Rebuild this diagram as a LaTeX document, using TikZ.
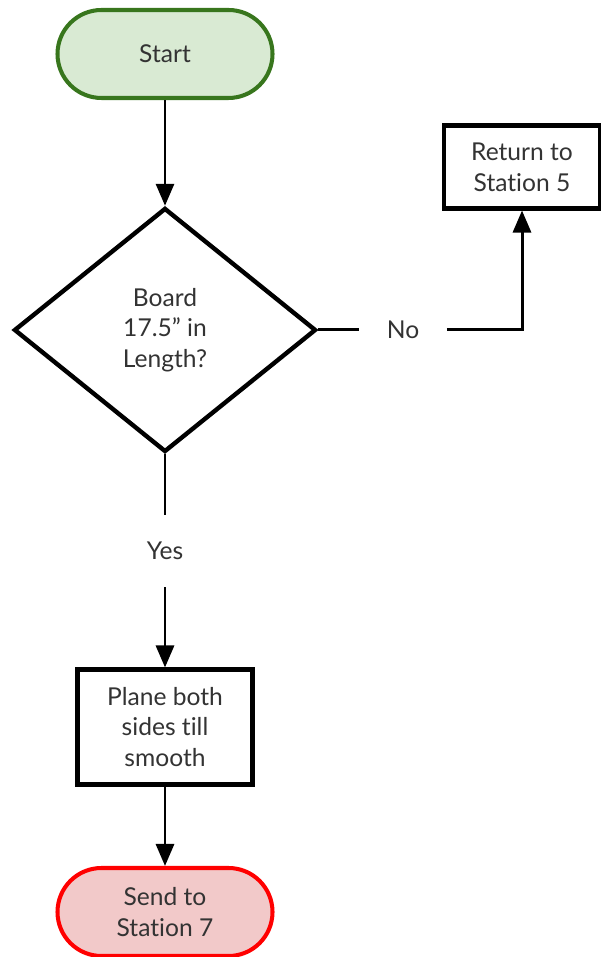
\documentclass[tikz,border=0pt]{standalone}
\usepackage{fontspec}
\setmainfont{Lato}[Ligatures=NoCommon]
\usetikzlibrary{shapes.geometric,arrows.meta}
\definecolor{startfill}{HTML}{D9EAD3}
\definecolor{startline}{HTML}{38761D}
\definecolor{endfill}{HTML}{F2C9C9}
\definecolor{endline}{HTML}{FF0000}
\definecolor{txt}{HTML}{333333}
\tikzset{
  terminal/.style={draw, line width=2.3pt, rounded corners=0.88cm, minimum width=4.3cm,
    minimum height=1.76cm, align=center, text=txt, font=\fontsize{14}{17.5}\selectfont},
  process/.style={draw, line width=2.3pt, align=center, text=txt, font=\fontsize{14}{17.5}\selectfont},
  decision/.style={draw, diamond, line width=2.5pt, minimum width=6.04cm, minimum height=4.88cm,
    inner sep=0pt, align=center, text=txt, font=\fontsize{14}{17.5}\selectfont},
  answer/.style={inner sep=0pt, text=txt, font=\fontsize{14}{17.5}\selectfont},
  flow/.style={line width=1.7pt, -{Triangle[width=0.36cm,length=0.44cm]}},
}
\begin{document}
\begin{tikzpicture}
  \useasboundingbox (0,0) rectangle (12,19.14);
  \draw
    (3.3,18.06) node[terminal, fill=startfill, draw=startline] (start){Start}
    (3.3,12.54) node[decision] (board){Board\\17.5” in\\Length?}
    (10.44,15.8) node[process, minimum width=3.12cm, minimum height=1.66cm] (return){Return to\\Station 5}
    (8.06,12.54) node[answer, minimum width=1.74cm] (no){No}
    (3.3,8.12) node[answer, minimum height=1.44cm] (yes){Yes}
    (3.3,4.6) node[process, minimum width=3.5cm, minimum height=2.3cm] (plane){Plane both\\sides till\\smooth}
    (3.3,0.9) node[terminal, fill=endfill, draw=endline] (send){Send to\\Station 7};
  \begin{scope}[flow]
    \draw (start) to (board);
    \draw[-] (board.east) to (no.west);
    \draw (no.east) -| (return.south);
    \draw[-] (board.south) to (yes.north);
    \draw (yes.south) to (plane.north);
    \draw (plane) to (send);
  \end{scope}
\end{tikzpicture}
\end{document}
